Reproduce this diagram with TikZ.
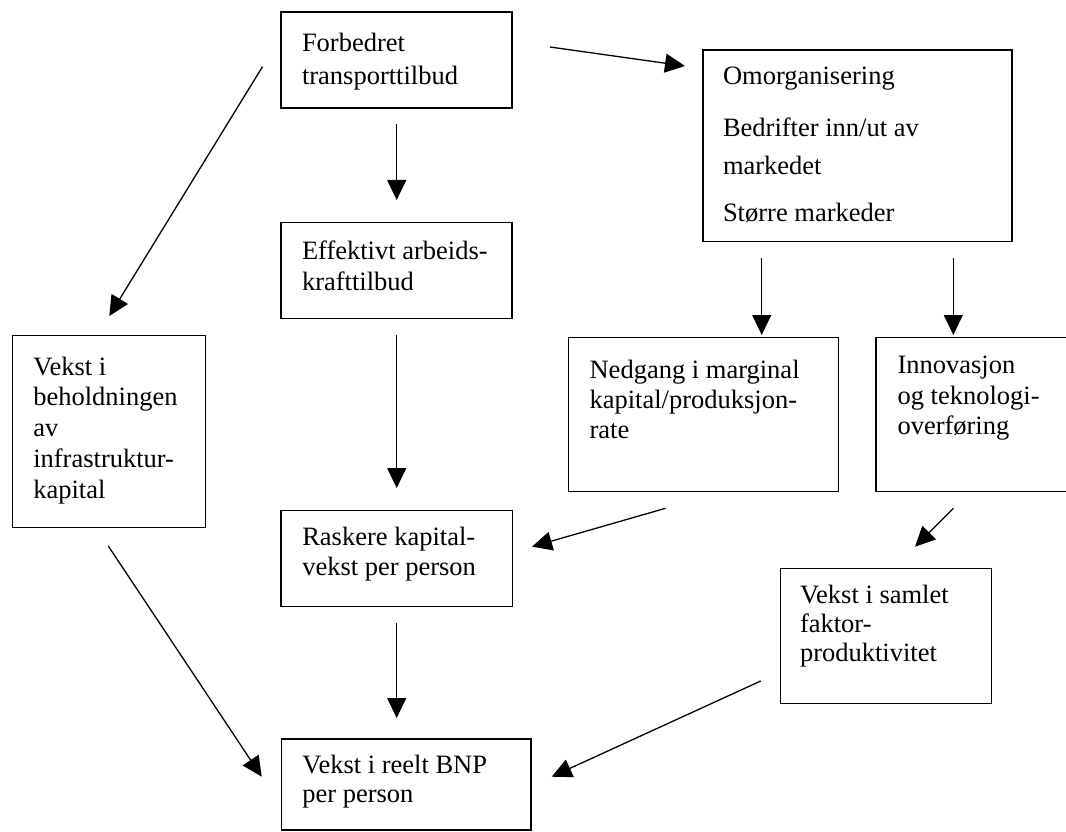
\documentclass[tikz,border=0pt]{standalone}
\usepackage{fontspec}
\setmainfont{Liberation Serif}
\usetikzlibrary{arrows.meta}
\tikzset{
  box/.style={draw, line width=1.4pt, inner sep=0pt, outer sep=0pt, anchor=north west},
  txt/.style={anchor=base west, inner sep=0pt, outer sep=0pt, font=\fontsize{26.5}{30.5}\selectfont},
  arr/.style={line width=1.3pt, -{Triangle[length=20pt,width=19pt]}}
}
\begin{document}
\begin{tikzpicture}[x=1pt,y=-1pt]
\useasboundingbox (0,0) rectangle (1066,832);
\begin{scope}
\clip (0,0) rectangle (1066,832);
% boxes
\node[box, minimum width=231pt, minimum height=96pt]   (b1)   at (281,12) {};
\node[box, minimum width=309pt, minimum height=191.5pt](om)   at (703,50) {};
\node[box, minimum width=231pt, minimum height=96pt]   (eff)  at (281,222.5) {};
\node[box, minimum width=193pt, minimum height=192pt]  (beh)  at (12.3,335.5) {};
\node[box, minimum width=270pt, minimum height=154pt]  (ned)  at (568.7,337.7) {};
\node[box, minimum width=210pt, minimum height=154pt]  (inn)  at (876,337.7) {};
\node[box, minimum width=231.5pt, minimum height=96pt] (rask) at (281,510.5) {};
\node[box, minimum width=211pt, minimum height=135pt]  (sam)  at (780.7,568.3) {};
\node[box, minimum width=249.5pt, minimum height=91pt] (bnp)  at (281.5,739) {};
\end{scope}
% texts
\node[txt, font=\fontsize{26.5}{33.3}\selectfont] (b1t) at (302,51.7) {\vtop{\hbox{Forbedret}\hbox{transporttilbud}}};
\node[txt] (omt1) at (723,85) {Omorganisering};
\node[txt, font=\fontsize{26.5}{38.3}\selectfont] (omt2) at (723,136.7) {\vtop{\hbox{Bedrifter inn/ut av}\hbox{markedet}}};
\node[txt] (omt3) at (723,221.7) {Større markeder};
\node[txt] (efft) at (302,259.5) {\vtop{\hbox{Effektivt arbeids-}\hbox{krafttilbud}}};
\node[txt, font=\fontsize{26.5}{30.75}\selectfont] (beht) at (33.3,375) {\vtop{\hbox{Vekst i}\hbox{beholdningen}\hbox{av}\hbox{infrastruktur-}\hbox{kapital}}};
\node[txt, font=\fontsize{26.5}{30}\selectfont] (nedt) at (589.6,378.3) {\vtop{\hbox{Nedgang i marginal}\hbox{kapital/produksjon-}\hbox{rate}}};
\node[txt, font=\fontsize{26.5}{30.8}\selectfont] (innt) at (897.5,373.3) {\vtop{\hbox{Innovasjon}\hbox{og teknologi-}\hbox{overføring}}};
\node[txt, font=\fontsize{26.5}{30.7}\selectfont] (raskt) at (302.3,545) {\vtop{\hbox{Raskere kapital-}\hbox{vekst per person}}};
\node[txt, font=\fontsize{26.5}{29.2}\selectfont] (samt) at (800,603.3) {\vtop{\hbox{Vekst i samlet}\hbox{faktor-}\hbox{produktivitet}}};
\node[txt, font=\fontsize{26.5}{29.5}\selectfont] (bnpt) at (302.3,773.3) {\vtop{\hbox{Vekst i reelt BNP}\hbox{per person}}};
% arrow end points
\coordinate (a1s) at (550,47);     \coordinate (a1e) at (685,66);
\coordinate (a2s) at (262.5,66.7); \coordinate (a2e) at (109.3,316);
\coordinate (a3s) at (396.7,124);  \coordinate (a3e) at (396.7,200);
\coordinate (a4s) at (396.7,335);  \coordinate (a4e) at (396.7,488);
\coordinate (a5s) at (761.7,258);  \coordinate (a5e) at (761.7,335);
\coordinate (a6s) at (953.3,258);  \coordinate (a6e) at (953.3,335);
\coordinate (a7s) at (665.5,508.3);\coordinate (a7e) at (532,546.7);
\coordinate (a8s) at (953.5,508.3);\coordinate (a8e) at (915,546.7);
\coordinate (a9s) at (108.3,546);  \coordinate (a9e) at (261.7,776.7);
\coordinate (a10s) at (396.7,623); \coordinate (a10e) at (396.7,718);
\coordinate (a11s) at (760.7,681); \coordinate (a11e) at (551.7,776.7);
% connectors
\draw[arr] (a1s) -- (a1e);
\draw[arr] (a2s) -- (a2e);
\draw[arr] (a3s) -- (a3e);
\draw[arr] (a4s) -- (a4e);
\draw[arr] (a5s) -- (a5e);
\draw[arr] (a6s) -- (a6e);
\draw[arr] (a7s) -- (a7e);
\draw[arr] (a8s) -- (a8e);
\draw[arr] (a9s) -- (a9e);
\draw[arr] (a10s) -- (a10e);
\draw[arr] (a11s) -- (a11e);
\end{tikzpicture}
\end{document}
